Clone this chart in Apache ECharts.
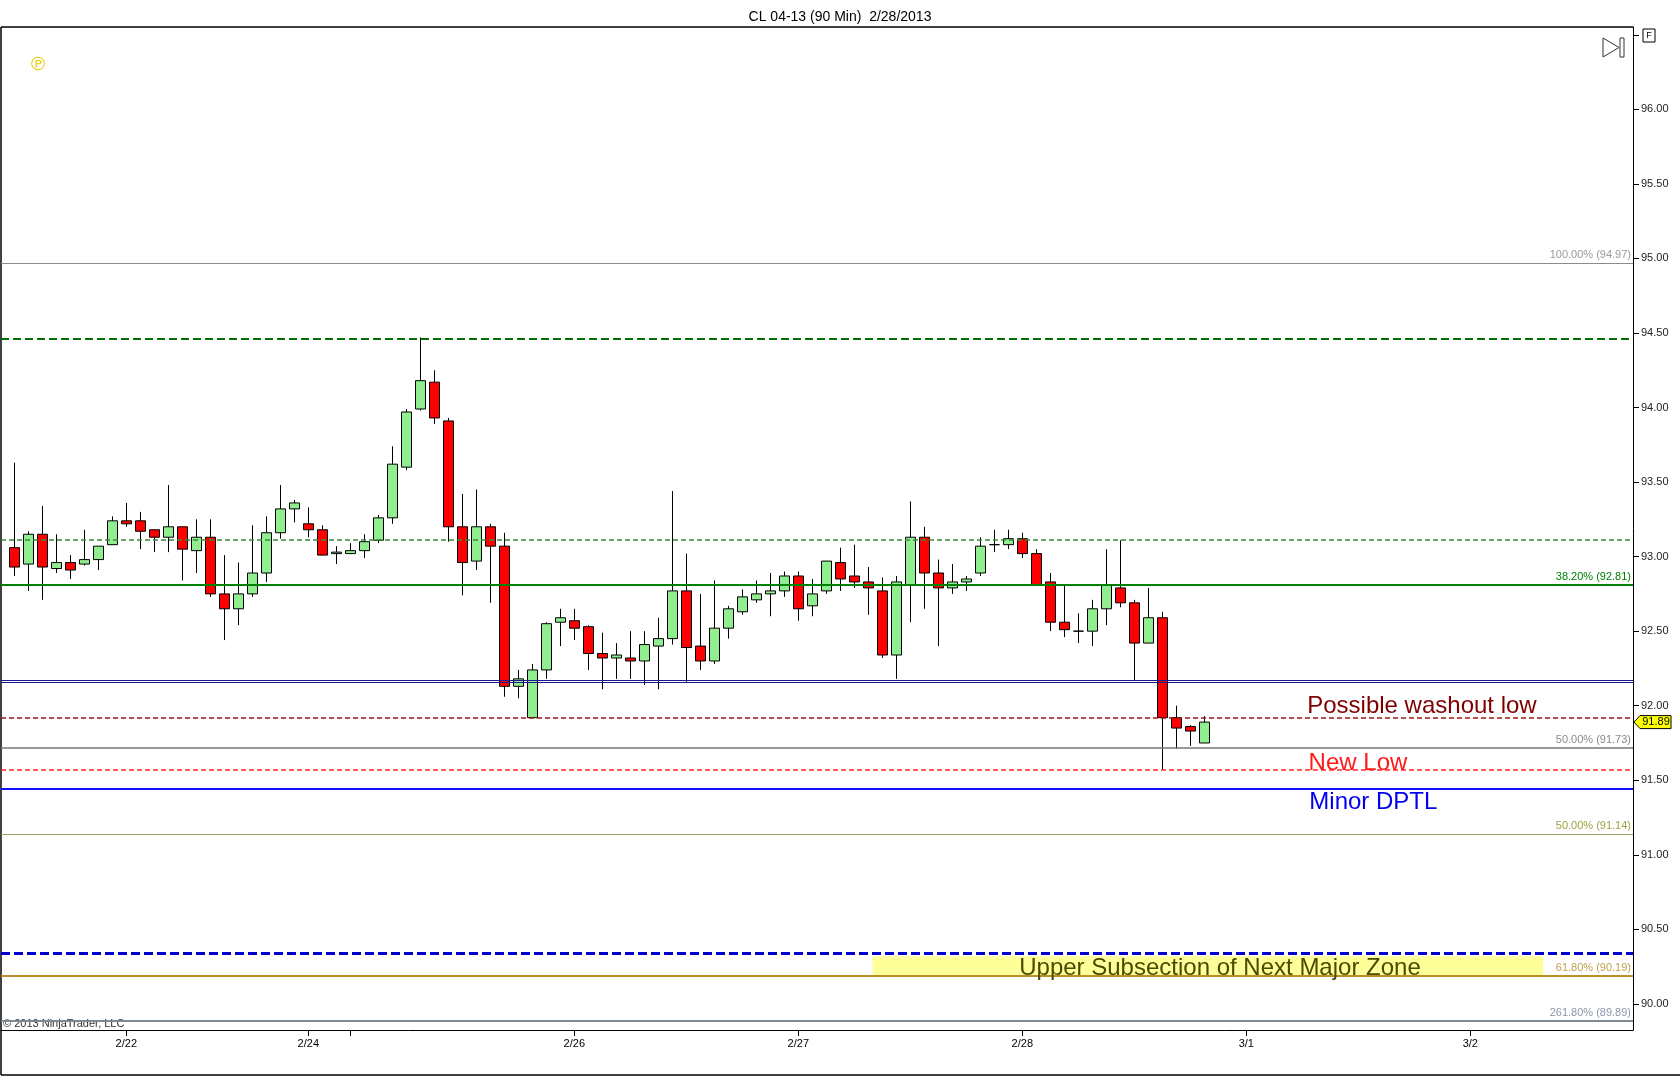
<!DOCTYPE html>
<html>
<head>
<meta charset="utf-8">
<title>CL 04-13 (90 Min) 2/28/2013</title>
<script src="https://cdn.jsdelivr.net/npm/echarts@6/dist/echarts.min.js"></script>
<style>
  html, body { margin: 0; padding: 0; background: #fff; }
  #chart { width: 1680px; height: 1076px; }
</style>
</head>
<body>
<div id="chart"></div>
<script>
// 90 min bars, index = bar number from the left edge
const opens = [
  93.06, 92.95, 93.15, 92.92, 92.96, 92.95, 92.98, 93.08, 93.24, 93.24,
  93.18, 93.13, 93.20, 93.04, 93.13, 92.75, 92.65, 92.75, 92.89, 93.16,
  93.32, 93.22, 93.18, 93.02, 93.02, 93.04, 93.11, 93.26, 93.60, 93.99,
  94.17, 93.91, 93.20, 92.97, 93.20, 93.07, 92.13, 91.92, 92.24, 92.56,
  92.57, 92.53, 92.35, 92.32, 92.32, 92.30, 92.40, 92.45, 92.77, 92.40,
  92.30, 92.52, 92.63, 92.71, 92.75, 92.77, 92.87, 92.67, 92.77, 92.96,
  92.87, 92.83, 92.77, 92.34, 92.81, 93.13, 92.89, 92.79, 92.83, 92.89,
  93.08, 93.08, 93.12, 93.02, 92.83, 92.56, 92.50, 92.50, 92.65, 92.79,
  92.69, 92.42, 92.59, 91.92, 91.86, 91.75
];
const highs = [
  93.63, 93.17, 93.34, 93.15, 93.01, 93.18, 93.07, 93.27, 93.36, 93.30,
  93.18, 93.48, 93.20, 93.25, 93.25, 93.01, 92.96, 93.21, 93.27, 93.48,
  93.38, 93.33, 93.21, 93.07, 93.09, 93.15, 93.28, 93.74, 93.99, 94.47,
  94.25, 93.93, 93.42, 93.45, 93.22, 93.16, 92.24, 92.28, 92.56, 92.65,
  92.65, 92.54, 92.49, 92.42, 92.50, 92.50, 92.59, 93.44, 93.02, 92.75,
  92.84, 92.67, 92.78, 92.84, 92.89, 92.90, 92.90, 92.85, 92.97, 93.06,
  93.08, 92.93, 92.86, 92.87, 93.37, 93.20, 92.98, 92.95, 92.87, 93.13,
  93.18, 93.18, 93.16, 93.05, 92.89, 92.81, 92.62, 92.71, 93.05, 93.11,
  92.71, 92.79, 92.63, 92.00, 91.87, 91.93
];
const lows = [
  92.87, 92.77, 92.71, 92.89, 92.85, 92.94, 92.91, 93.08, 93.20, 93.05,
  93.03, 93.03, 92.84, 92.89, 92.73, 92.44, 92.54, 92.73, 92.83, 93.12,
  93.23, 93.13, 93.01, 92.95, 93.02, 92.99, 93.09, 93.22, 93.58, 93.98,
  93.89, 93.10, 92.74, 92.91, 92.69, 92.06, 92.05, 91.92, 92.18, 92.40,
  92.44, 92.24, 92.11, 92.18, 92.18, 92.14, 92.11, 92.41, 92.16, 92.24,
  92.28, 92.45, 92.61, 92.69, 92.60, 92.73, 92.57, 92.60, 92.75, 92.77,
  92.79, 92.61, 92.32, 92.18, 92.56, 92.65, 92.40, 92.75, 92.77, 92.87,
  93.03, 93.05, 92.99, 92.81, 92.50, 92.46, 92.42, 92.40, 92.54, 92.66,
  92.17, 92.42, 91.57, 91.71, 91.73, 91.75
];
const closes = [
  92.93, 93.15, 92.93, 92.96, 92.91, 92.98, 93.07, 93.24, 93.22, 93.17,
  93.13, 93.20, 93.05, 93.13, 92.75, 92.65, 92.75, 92.89, 93.16, 93.32,
  93.36, 93.18, 93.01, 93.03, 93.04, 93.10, 93.26, 93.62, 93.97, 94.18,
  93.93, 93.20, 92.96, 93.20, 93.07, 92.13, 92.18, 92.24, 92.55, 92.59,
  92.52, 92.35, 92.32, 92.34, 92.30, 92.41, 92.45, 92.77, 92.39, 92.30,
  92.52, 92.65, 92.73, 92.75, 92.77, 92.87, 92.65, 92.75, 92.97, 92.85,
  92.83, 92.79, 92.34, 92.83, 93.13, 92.89, 92.79, 92.83, 92.85, 93.07,
  93.08, 93.12, 93.02, 92.81, 92.56, 92.51, 92.50, 92.65, 92.81, 92.69,
  92.42, 92.59, 91.92, 91.85, 91.83, 91.89
];

const dateTickBars = [8, 21, 40, 56, 72, 88, 104];
const dateTickLabels = ['2/22', '2/24', '2/26', '2/27', '2/28', '3/1', '3/2'];
const extraTickBars = [24];
const priceTicks = [90, 90.5, 91, 91.5, 92, 92.5, 93, 93.5, 94, 94.5, 95, 95.5, 96];

// drawn price levels and their right-hand captions
const levelPrices = [94.97, 94.46, 93.11, 92.81, 92.172, 92.157, 91.915, 91.725, 91.566, 91.44, 91.135, 90.337, 90.194, 89.89];
const levelLabels = ['100.00% (94.97)', '', '', '38.20% (92.81)', '', '', '', '50.00% (91.73)', '', '', '50.00% (91.14)', '', '61.80% (90.19)', '261.80% (89.89)'];

const lastPrice = 91.89;
const noteTexts = ['Possible washout low', 'New Low', 'Minor DPTL', 'Upper Subsection of Next Major Zone'];
const noteBars = [92.35, 92.45, 92.5, 86.12];
const notePrices = [91.998, 91.616, 91.354, 90.241];
const zoneBars = [61.3, 109.2];
const zonePrices = [90.194, 90.32];

const font = '"Liberation Sans", Arial, sans-serif';

const levelStyles = [
  { color: '#8c8c8c', width: 1, type: 'solid', text: '#9a9a9a' },
  { color: '#007000', width: 2, type: [8, 4] },
  { color: '#3a8a3a', width: 1.5, type: [5, 3] },
  { color: '#008000', width: 2, type: 'solid', text: '#008000' },
  { color: '#1a1a8c', width: 1, type: 'solid' },
  { color: '#1a1a8c', width: 1, type: 'solid' },
  { color: '#a01818', width: 1.5, type: [5, 3] },
  { color: '#777777', width: 1.5, type: 'solid', text: '#8a8a8a' },
  { color: '#ff2a2a', width: 1.5, type: [5, 3] },
  { color: '#1010ff', width: 2, type: 'solid' },
  { color: '#a0a060', width: 1, type: 'solid', text: '#a0a040' },
  { color: '#0000cc', width: 3, type: [9, 4] },
  { color: '#b8902a', width: 2, type: 'solid', text: '#c0a050' },
  { color: '#7d8890', width: 2, type: 'solid', text: '#8a96a8' }
];
const noteColors = ['#800000', '#ff1a1a', '#0000ee', '#4b4b00'];

const chart = echarts.init(document.getElementById('chart'));

const candles = opens.map((o, i) => [i, o, closes[i], lows[i], highs[i]]);

const markLines = levelPrices.map((p, i) => ({
  yAxis: p,
  lineStyle: { color: levelStyles[i].color, width: levelStyles[i].width, type: levelStyles[i].type },
  label: {
    show: levelLabels[i] !== '',
    formatter: levelLabels[i],
    position: 'insideEndTop',
    distance: [2, 2],
    color: levelStyles[i].text || '#888',
    fontSize: 11,
    fontFamily: font
  }
}));

chart.setOption({
  animation: false,
  backgroundColor: '#fff',
  title: {
    text: 'CL 04-13 (90 Min)  2/28/2013',
    left: 'center',
    top: 5,
    textStyle: { fontSize: 14, fontWeight: 'normal', color: '#000', fontFamily: font }
  },
  grid: { left: 1, right: 47, top: 27, bottom: 46, containLabel: false, outerBoundsMode: 'none' },
  xAxis: {
    type: 'value',
    min: -0.95,
    max: 115.62,
    splitLine: { show: false },
    axisLine: { show: true, onZero: false, lineStyle: { color: '#000', width: 1 } },
    axisTick: { show: true, customValues: dateTickBars.concat(extraTickBars), length: 6, lineStyle: { color: '#000' } },
    axisLabel: {
      customValues: dateTickBars,
      formatter: (v) => dateTickLabels[dateTickBars.indexOf(v)] || '',
      margin: 8,
      fontSize: 11,
      color: '#000',
      fontFamily: font
    }
  },
  yAxis: {
    type: 'value',
    position: 'right',
    min: 89.825,
    max: 96.552,
    splitLine: { show: false },
    axisLine: { show: true, onZero: false, lineStyle: { color: '#000', width: 1 } },
    axisTick: { show: true, customValues: priceTicks.concat([96.5]), length: 6, lineStyle: { color: '#000' } },
    axisLabel: {
      customValues: priceTicks,
      formatter: (v) => v.toFixed(2),
      margin: 8,
      fontSize: 11,
      color: '#222',
      fontFamily: font
    }
  },
  series: [{
    type: 'candlestick',
    data: candles,
    barWidth: 10,
    itemStyle: {
      color: '#90ee90',
      color0: '#ff0000',
      borderColor: '#000',
      borderColor0: '#000',
      borderColorDoji: '#000',
      borderWidth: 1
    },
    markArea: {
      silent: true,
      itemStyle: { color: '#ffff99' },
      data: [[{ xAxis: zoneBars[0], yAxis: zonePrices[0] }, { xAxis: zoneBars[1], yAxis: zonePrices[1] }]]
    },
    markLine: {
      silent: true,
      symbol: ['none', 'none'],
      data: markLines
    }
  }]
});

// annotations placed through the axes
const texts = noteTexts.map((t, i) => {
  const pt = chart.convertToPixel({ gridIndex: 0 }, [noteBars[i], notePrices[i]]);
  return {
    type: 'text',
    x: pt[0],
    y: pt[1],
    z: 50,
    style: {
      text: t,
      fill: noteColors[i],
      font: '24px ' + font,
      align: i === 3 ? 'center' : 'left',
      verticalAlign: 'middle'
    }
  };
});

const py = chart.convertToPixel({ yAxisIndex: 0 }, lastPrice);
const axisX = chart.convertToPixel({ xAxisIndex: 0 }, 115.62);

chart.setOption({
  graphic: texts.concat([
    { type: 'line', shape: { x1: 1, y1: 27, x2: 1, y2: 1075 }, style: { stroke: '#000', lineWidth: 1.5 } },
    { type: 'line', shape: { x1: 1, y1: 27, x2: axisX, y2: 27 }, style: { stroke: '#000', lineWidth: 1.5 } },
    { type: 'line', shape: { x1: 1, y1: 1075, x2: 1680, y2: 1075 }, style: { stroke: '#000', lineWidth: 1.5 } },
    {
      type: 'polygon',
      z: 60,
      shape: { points: [[axisX + 1, py], [axisX + 7, py - 6.5], [axisX + 38, py - 6.5], [axisX + 38, py + 6.5], [axisX + 7, py + 6.5]] },
      style: { fill: '#ffff00', stroke: '#000', lineWidth: 1 }
    },
    {
      type: 'text', x: axisX + 23, y: py, z: 61,
      style: { text: lastPrice.toFixed(2), fill: '#000', font: '11px ' + font, align: 'center', verticalAlign: 'middle' }
    },
    {
      type: 'text', x: 38, y: 65,
      style: { text: '\u2117', fill: '#e8c800', font: '19px ' + font, align: 'center', verticalAlign: 'middle' }
    },
    {
      type: 'polygon',
      shape: { points: [[1603, 38], [1603, 57], [1619, 47.5]] },
      style: { fill: 'none', stroke: '#333', lineWidth: 1 }
    },
    { type: 'rect', shape: { x: 1620, y: 38, width: 4, height: 19 }, style: { fill: 'none', stroke: '#333', lineWidth: 1 } },
    { type: 'rect', shape: { x: 1643, y: 29, width: 12, height: 13 }, style: { fill: '#fff', stroke: '#000', lineWidth: 1 } },
    {
      type: 'text', x: 1649, y: 35.5,
      style: { text: 'F', fill: '#000', font: '9px ' + font, align: 'center', verticalAlign: 'middle' }
    },
    {
      type: 'text', x: 3, y: 1024,
      style: { text: '\u00a9 2013 NinjaTrader, LLC', fill: '#333', font: '11px ' + font, align: 'left', verticalAlign: 'middle' }
    }
  ])
});
</script>
</body>
</html>
